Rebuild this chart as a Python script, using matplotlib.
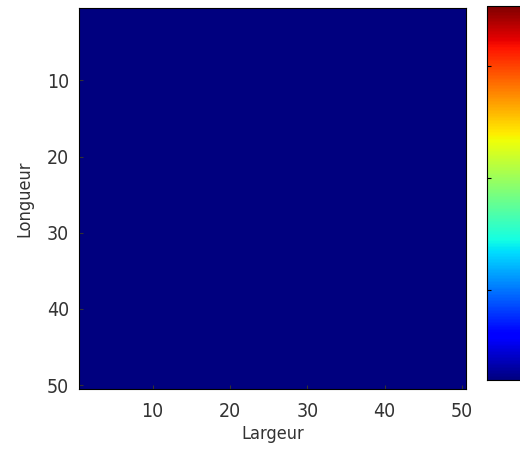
import matplotlib
matplotlib.use("Agg")
import matplotlib.pyplot as plt
import numpy as np

n_rows = 50
n_cols = 50
grid = np.zeros((n_rows, n_cols))
x_ticks = [10, 20, 30, 40, 50]
y_ticks = [10, 20, 30, 40, 50]
cbar_ticks = [0.24, 0.54, 0.84]

plt.rcParams['font.family'] = ['DejaVu Sans']
plt.rcParams['font.stretch'] = 'condensed'

fig = plt.figure(figsize=(5.2, 4.59), dpi=100)
ax = fig.add_axes([0.152, 0.1525, 0.744, 0.830])
cax = fig.add_axes([0.9365, 0.172, 0.09, 0.815])

im = ax.imshow(grid, cmap='jet', vmin=0, vmax=1, aspect='auto',
               extent=(0.5, n_cols + 0.5, n_rows + 0.5, 0.5))
ax.set_xticks(x_ticks)
ax.set_yticks(y_ticks)
ax.tick_params(direction='in', length=3, labelsize=14, colors='#333333')
ax.tick_params(axis='x', pad=9)
ax.tick_params(axis='y', pad=7)
ax.set_xlabel("Largeur", fontsize=13, color='#333333', labelpad=3)
ax.set_ylabel("Longueur", fontsize=13, color='#333333', labelpad=10)

cb = fig.colorbar(im, cax=cax, ticks=cbar_ticks)
cb.outline.set_linewidth(0.8)
cax.tick_params(direction='in', length=3, labelright=False, left=True)

fig.savefig("out.png", dpi=100)
